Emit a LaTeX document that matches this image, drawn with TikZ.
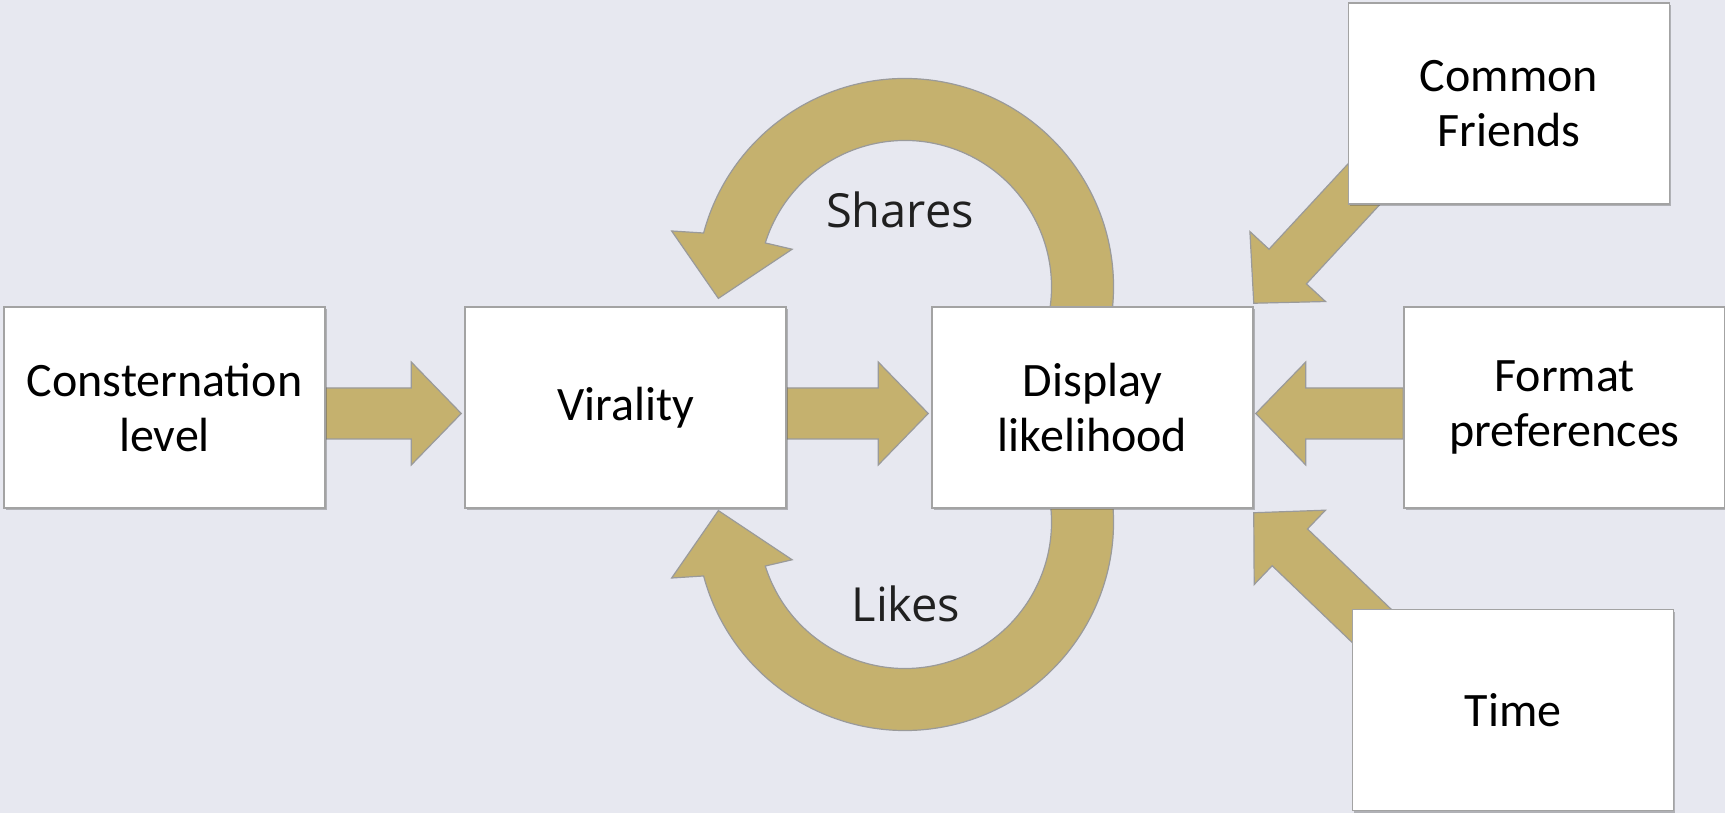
\documentclass[tikz,border=0pt]{standalone}
\usepackage{fontspec}
\setmainfont{Carlito}
\newfontfamily\lblfont{Open Sans}
\usetikzlibrary{calc}
\usetikzlibrary{shadows}
\definecolor{bgcol}{HTML}{E7E8F0}
\definecolor{flowfill}{HTML}{C5B16E}
\definecolor{flowline}{HTML}{9A9A9A}
\definecolor{boxline}{HTML}{A3A3A3}
\definecolor{lblcol}{HTML}{202020}
\pgfdeclarelayer{canvas}
\pgfdeclarelayer{flows}
\pgfsetlayers{canvas,flows,main}

\tikzset{
  box/.style={draw=boxline, line width=0.75pt, fill=white, minimum width=160.5pt, minimum height=100.5pt,
    inner sep=0pt, align=center, font=\fontsize{24}{27.5}\selectfont,
    drop shadow={shadow xshift=0.8pt, shadow yshift=-1.2pt, opacity=0.35, fill=black!70}},
  flow/.style={fill=flowfill, draw=flowline, line width=0.6pt},
  lbl/.style={font=\lblfont\fontsize{23.5}{26}\selectfont, text=lblcol, inner sep=0pt, anchor=base}
}

% fat arrow from #1 (tail) to #2 (tip)
\newcommand{\blockarrow}[2]{%
  \coordinate (ba-n) at ($(#2)!25pt!(#1)$);
  \draw[flow] ($(#1)!12.75pt!90:(#2)$) -- ($(ba-n)!12.75pt!90:(#2)$) -- ($(ba-n)!25.75pt!90:(#2)$)
    -- (#2) -- ($(ba-n)!25.75pt!-90:(#2)$) -- ($(ba-n)!12.75pt!-90:(#2)$) -- ($(#1)!12.75pt!-90:(#2)$) -- cycle;
}

\begin{document}
\begin{tikzpicture}[x=0.5pt,y=0.5pt]
\begin{pgfonlayer}{canvas}
\fill[bgcol] (0,0) rectangle (1725,813);
\end{pgfonlayer}
\useasboundingbox (0,0) rectangle (1725,813);

\node[box] (cons)    at (164.5,405.5) {Consternation\\level};
\node[box] (vir)     at (625.5,405.5) {Virality};
\node[box] (disp)    at (1092.5,405.5) {Display\\likelihood};
\node[box] (fmt)     at (1564.5,405.5) {Format\\preferences};
\node[box] (friends) at (1509,709.5) {Common\\Friends};
\node[box] (time)    at (1513,103) {Time};

\coordinate (sharesc) at (905,526);
\coordinate (likesc)  at (905,291);

\begin{pgfonlayer}{flows}
\blockarrow{[yshift=-3pt]cons.east}{[xshift=-1.5pt,yshift=-3pt]vir.west}
\blockarrow{[yshift=-3pt]vir.east}{[xshift=-1.5pt,yshift=-3pt]disp.west}
\blockarrow{[yshift=-3pt]fmt.west}{[xshift=1pt,yshift=-3pt]disp.east}
\blockarrow{[xshift=12pt,yshift=14.5pt]friends.south west}{[yshift=1.5pt]disp.north east}
\blockarrow{[xshift=18.5pt,yshift=-16.75pt]time.north west}{[yshift=-2pt]disp.south east}

% the two loops back to virality (top one mirrored below)
\foreach \c/\s in {sharesc/1, likesc/-1} {
  \draw[flow] ([shift={({\s*-10}:208.5)}]\c) arc[start angle=\s*-10, end angle=\s*165, radius=208.5]
    -- ([shift={({\s*166.5}:240)}]\c) -- ([shift={({\s*183.5}:187)}]\c) -- ([shift={({\s*161.5}:119)}]\c)
    -- ([shift={({\s*162.5}:146.5)}]\c) arc[start angle=\s*162.5, end angle=\s*-10, radius=146.5] -- cycle;
}
\end{pgfonlayer}

\node[lbl] (shares) at (900,585) {Shares};
\node[lbl] (likes)  at (906,191) {Likes};
\end{tikzpicture}
\end{document}
